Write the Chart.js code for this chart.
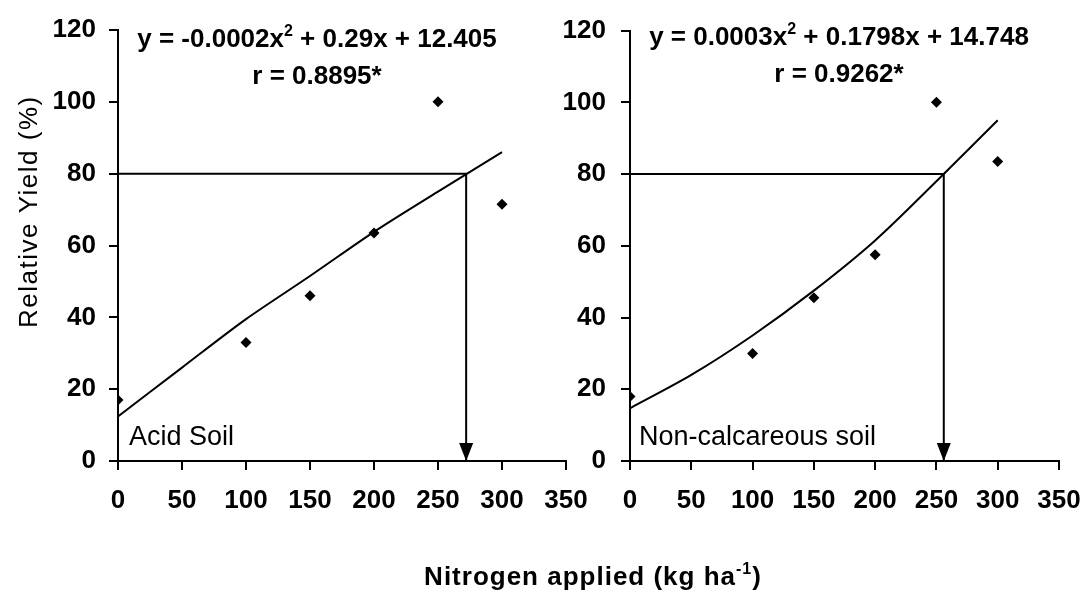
<!DOCTYPE html>
<html>
<head>
<meta charset="utf-8">
<script src="https://cdn.jsdelivr.net/npm/chart.js@4.4.1/dist/chart.umd.min.js"></script>
<style>
  html, body { margin: 0; padding: 0; background: #fff; }
  #wrap { position: relative; width: 1085px; height: 598px; }
  #wrap canvas { position: absolute; left: 0; top: 0; }
</style>
</head>
<body>
<div id="wrap">
  <canvas id="acidChart" width="1085" height="598"></canvas>
  <canvas id="nonCalcChart" width="1085" height="598"></canvas>
</div>
<script>
// observed yields (%) at each N rate
const nRates = [0, 100, 150, 200, 250, 300];
const acidYield = [17, 33, 46, 63.5, 100, 71.5];
const nonCalcYield = [18, 30, 45.5, 57.5, 100, 83.5];

// fitted curves
const fitRates = [0, 50, 100, 150, 200, 250, 300];
const acidFit = [12.4, 26, 39.5, 51.5, 63.8, 75, 86];
const nonCalcFit = [14.7, 24, 35, 47.5, 61.5, 78, 95];

// N rate giving 80 % relative yield
const targetYield = 80;
const acidCritical = 272;
const nonCalcCritical = 256;

const xTicks = [0, 50, 100, 150, 200, 250, 300, 350];
const yTicks = [0, 20, 40, 60, 80, 100, 120];

const FONT = "'Liberation Sans', Arial, Helvetica, sans-serif";

function pts(xs, ys) {
  return xs.map((x, i) => ({ x: x, y: ys[i] }));
}

// draws text with a superscript part in the middle, centred on cx
function drawSup(ctx, parts, cx, y, size, spacing) {
  const supSize = Math.round(size * 0.62);
  const big = 'bold ' + size + 'px ' + FONT;
  const small = 'bold ' + supSize + 'px ' + FONT;
  ctx.letterSpacing = (spacing || 0) + 'px';
  ctx.font = big;
  const w1 = ctx.measureText(parts[0]).width;
  const w3 = ctx.measureText(parts[2]).width;
  ctx.font = small;
  const w2 = ctx.measureText(parts[1]).width;
  let x = cx - (w1 + w2 + w3) / 2;
  ctx.textAlign = 'left';
  ctx.textBaseline = 'alphabetic';
  ctx.font = big;
  ctx.fillText(parts[0], x, y);
  x += w1;
  ctx.font = small;
  ctx.fillText(parts[1], x, y - size * 0.42);
  x += w2;
  ctx.font = big;
  ctx.fillText(parts[2], x, y);
  ctx.letterSpacing = '0px';
}

function makeChart(id, yields, fit, critical, o) {
  const annotate = {
    id: 'annotate',
    afterDatasetsDraw(chart) {
      const ctx = chart.ctx;
      const xs = chart.scales.x, ys = chart.scales.y;
      // arrow head at the axis
      const px = xs.getPixelForValue(critical);
      const py = ys.getPixelForValue(0);
      ctx.save();
      ctx.fillStyle = '#000';
      ctx.beginPath();
      ctx.moveTo(px - 7, py - 18);
      ctx.lineTo(px + 7, py - 18);
      ctx.lineTo(px, py);
      ctx.closePath();
      ctx.fill();

      drawSup(ctx, o.equation, o.eqX, o.eqY, 26);
      ctx.font = 'bold 26px ' + FONT;
      ctx.textAlign = 'center';
      ctx.fillText(o.rText, o.eqX, o.eqY + 37);

      ctx.font = '27px ' + FONT;
      ctx.textAlign = 'left';
      ctx.fillText(o.soil, o.soilX, 445);

      if (o.yTitle) {
        ctx.save();
        ctx.translate(37, 328);
        ctx.rotate(-Math.PI / 2);
        ctx.font = '26px ' + FONT;
        ctx.letterSpacing = '1.5px';
        ctx.textAlign = 'left';
        ctx.fillText(o.yTitle, 0, 0);
        ctx.restore();
      }
      if (o.xTitle) {
        drawSup(ctx, o.xTitle, 593, 585, 26, 1);
      }
      ctx.restore();
    }
  };

  return new Chart(document.getElementById(id), {
    type: 'scatter',
    data: {
      datasets: [
        {
          data: pts(nRates, yields),
          pointStyle: 'rectRot',
          pointRadius: 5.5,
          backgroundColor: '#000',
          borderWidth: 0,
          order: 0
        },
        {
          data: pts(fitRates, fit),
          showLine: true,
          borderColor: '#000',
          borderWidth: 2,
          pointRadius: 0,
          tension: 0.3,
          order: 1
        },
        {
          data: [
            { x: 0, y: targetYield },
            { x: critical, y: targetYield },
            { x: critical, y: 0 }
          ],
          showLine: true,
          borderColor: '#000',
          borderWidth: 2,
          pointRadius: 0,
          order: 2
        }
      ]
    },
    options: {
      responsive: false,
      animation: false,
      devicePixelRatio: 1,
      layout: { padding: { left: o.padLeft, right: o.padRight, top: 30, bottom: 77 } },
      plugins: { legend: { display: false }, tooltip: { enabled: false } },
      scales: {
        x: {
          type: 'linear',
          min: xTicks[0],
          max: xTicks[xTicks.length - 1],
          ticks: {
            stepSize: xTicks[1] - xTicks[0],
            color: '#000',
            padding: 15,
            maxRotation: 0,
            autoSkip: false,
            font: { family: FONT, size: 26, weight: 'bold' }
          },
          grid: { drawOnChartArea: false, color: '#000', lineWidth: 2, tickLength: 9 },
          border: { color: '#000', width: 2 },
          afterFit(s) {
            s.height = 60;
            // labels may overhang the plot edges, as in the original
            s.paddingLeft = 0;
            s.paddingRight = 0;
          }
        },
        y: {
          min: yTicks[0],
          max: yTicks[yTicks.length - 1],
          ticks: {
            stepSize: yTicks[1] - yTicks[0],
            color: '#000',
            padding: o.yPad,
            font: { family: FONT, size: 26, weight: 'bold' }
          },
          grid: { drawOnChartArea: false, color: '#000', lineWidth: 2, tickLength: 9 },
          border: { color: '#000', width: 2 },
          afterFit(s) { s.width = o.yWidth; }
        }
      }
    },
    plugins: [annotate]
  });
}

makeChart('acidChart', acidYield, acidFit, acidCritical, {
  padLeft: 0, padRight: 519, yWidth: 118, yPad: 13,
  equation: ['y = -0.0002x', '2', ' + 0.29x + 12.405'],
  rText: 'r = 0.8895*',
  eqX: 317, eqY: 47,
  soil: 'Acid Soil', soilX: 129,
  yTitle: 'Relative Yield (%)'
});

makeChart('nonCalcChart', nonCalcYield, nonCalcFit, nonCalcCritical, {
  padLeft: 550, padRight: 26, yWidth: 80, yPad: 15,
  equation: ['y = 0.0003x', '2', ' + 0.1798x + 14.748'],
  rText: 'r = 0.9262*',
  eqX: 839, eqY: 45,
  soil: 'Non-calcareous soil', soilX: 639,
  xTitle: ['Nitrogen applied (kg ha', '-1', ')']
});
</script>
</body>
</html>
